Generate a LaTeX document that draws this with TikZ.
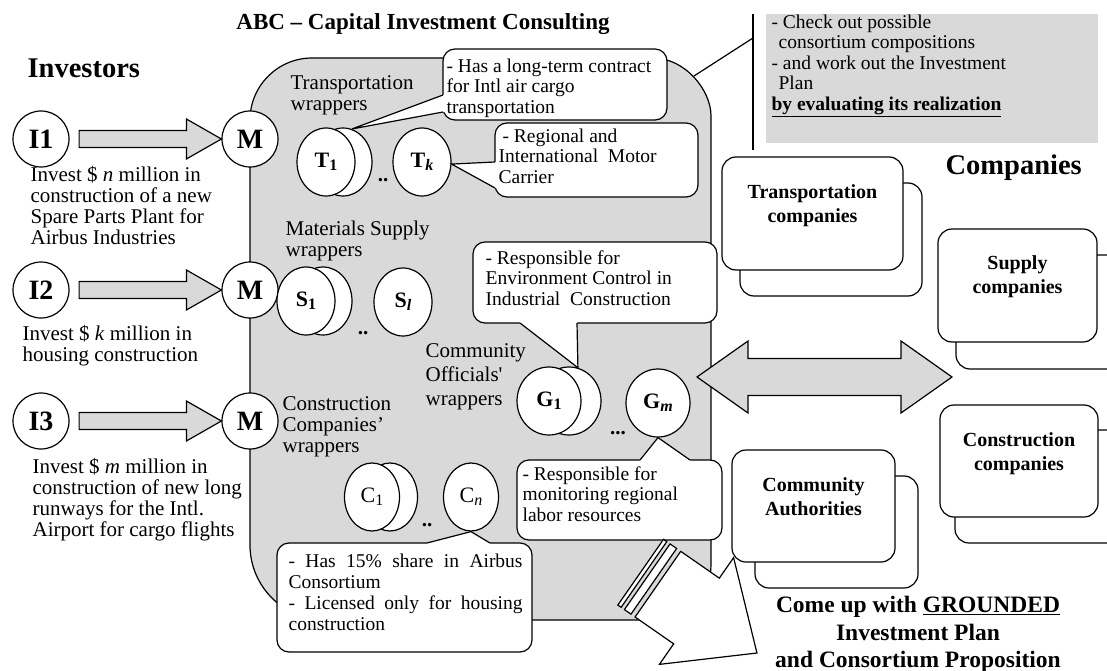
\documentclass[tikz,border=0pt]{standalone}
\usepackage{fontspec}
\setmainfont{Liberation Serif}
\usetikzlibrary{calc,shapes.geometric}
\definecolor{panel}{RGB}{217,217,217}
% wrapper labels: letter with a lowered index
\newcommand{\wlab}[2]{{\bfseries #1\raisebox{-3pt}{\fontsize{16}{16}\selectfont #2}}}
\newcommand{\wlabrm}[2]{#1\raisebox{-3pt}{\fontsize{16}{16}\selectfont #2}}
\begin{document}
\begin{tikzpicture}[x=1pt,y=-1pt,line width=1.2pt,
  every node/.style={inner sep=0pt},
  lbl/.style={anchor=north west,align=left,font=\fontsize{21}{21}\selectfont},
  note/.style={anchor=north west,align=left,font=\fontsize{19.5}{20.5}\selectfont},
  hub/.style={circle,draw,fill=white,minimum size=56pt,font=\fontsize{28}{28}\selectfont\bfseries},
  wrapper/.style={ellipse,draw,fill=white,minimum width=58pt,minimum height=68pt,font=\fontsize{22}{22}\selectfont},
  bubble/.style={draw,fill=white,rounded corners=12pt},
  firm/.style={draw,fill=white,rounded corners=14pt},
  firmname/.style={anchor=north,align=center,font=\fontsize{20}{24.5}\selectfont\bfseries},
  head/.style={font=\fontsize{28.5}{28.5}\selectfont\bfseries},
  fat/.style={draw,fill=panel,line join=miter},
  dots/.style={anchor=base,font=\fontsize{21}{21}\selectfont\bfseries},
]
\useasboundingbox (0,0) rectangle (1107,671);
\fill[white] (0,0) rectangle (1107,671);

% ---------- consulting area ----------
\filldraw[fill=panel] (250,120) .. controls (250,85.8) and (277.8,58) .. (312,58)
  -- (653,58) .. controls (685,58) and (711,90) .. (711,116)
  -- (711,565) .. controls (711,595.4) and (686.4,620) .. (656,620)
  -- (325,620) .. controls (283.6,620) and (250,586.4) .. (250,545) -- cycle;

\node[head,font=\fontsize{23}{23}\selectfont\bfseries,anchor=base] (title) at (423,30) {ABC -- Capital Investment Consulting};
\node[head,anchor=west] (investors) at (27,68) {Investors};
\node[head,anchor=west] (companies) at (945,168) {Companies};

% ---------- task panel ----------
\fill[panel] (766,14) rectangle (1098,143);
\node[note] (task) at (771,14) {- Check out possible\\\hspace*{7pt}consortium compositions\\- and work out the Investment\\\hspace*{7pt}Plan\\\underline{\textbf{by evaluating its realization}}};
\coordinate (vtop) at (753,14);
\coordinate (vbot) at (753,150);
\coordinate (dlink) at (753,38);
\coordinate (dfoot) at (694,76);
\draw (vtop) -- (vbot);
\draw (dfoot) -- (dlink);

% ---------- investors and their mandates ----------
\foreach \k/\yy in {1/139,2/290,3/421}{
  \node[hub] (I\k) at (41,\yy) {I\k};
  \node[hub] (M\k) at (250,\yy) {M};
  \draw[fat] ($(I\k.east)+(9.5,-8.5)$) -- ($(M\k.west)+(-35,-8.5)$) -- ($(M\k.west)+(-35,-20)$)
    -- (M\k.west) -- ($(M\k.west)+(-35,20)$) -- ($(M\k.west)+(-35,8.5)$) -- ($(I\k.east)+(9.5,8.5)$) -- cycle;
}
\node[lbl] (inv1) at (30,166) {Invest \$ \textit{n} million in\\construction of a new\\Spare Parts Plant for\\Airbus Industries};
\node[lbl] (inv2) at (22,325) {Invest \$ \textit{k} million in\\housing construction};
\node[lbl] (inv3) at (32,458) {Invest \$ \textit{m} million in\\construction of new long\\runways for the Intl.\\Airport for cargo flights};

% ---------- wrapper groups ----------
\node[lbl] (tgrp) at (290,75) {Transportation\\wrappers};
\node[lbl] (sgrp) at (285,220) {Materials Supply\\wrappers};
\node[lbl,font=\fontsize{21}{24}\selectfont] (ggrp) at (425,343) {Community\\Officials\textquotesingle\\wrappers};
\node[lbl] (cgrp) at (282,396) {Construction\\Companies’\\wrappers};

\node[wrapper] (T1b) at (343,162) {};
\node[wrapper] (T1) at (326,162) {\wlab{T}{1}};
\node[wrapper] (Tk) at (422,162) {\wlab{T}{\itshape k}};
\node[dots] (tdots) at (383,182) {..};

\node[wrapper] (S1b) at (323,301) {};
\node[wrapper] (S1) at (306,301) {\wlab{S}{1}};
\node[wrapper] (Sl) at (403,302) {\wlab{S}{\itshape l}};
\node[dots] (sdots) at (363,334) {..};

\node[wrapper,minimum width=64pt] (G1b) at (569,401) {};
\node[wrapper,minimum width=64pt] (G1) at (549,401) {\wlab{G}{1}};
\node[wrapper,minimum width=64pt] (Gm) at (658,403) {\wlab{G}{\itshape m}};
\node[dots] (gdots) at (618,434) {...};

\node[wrapper,minimum width=55pt] (C1b) at (390,497) {};
\node[wrapper,minimum width=55pt] (C1) at (372,497) {\wlabrm{C}{1}};
\node[wrapper,minimum width=55pt] (Cn) at (471,497) {\wlabrm{C}{\itshape n}};
\node[dots] (cdots) at (427,526) {..};

% ---------- callouts ----------
\draw[bubble] (443,49) rectangle (667,120);
\fill[white] (446,95) -- (443,95) -- (T1b.75) -- (443,112) -- (446,112) -- cycle;
\draw (443,95) -- (T1b.75) -- (443,112);
\node[note] (tnote) at (446,58) {- Has a long-term contract\\for Intl air cargo\\transportation};

\draw[bubble] (495,123) rectangle (698,197);
\fill[white] (498,162) -- (495,162) -- (Tk.-4) -- (495,188) -- (498,188) -- cycle;
\draw (495,162) -- (Tk.-4) -- (495,188);
\node[note] (knote) at (498,128) {\hspace*{4pt}- Regional and\\International~~Motor\\Carrier};

\draw[bubble] (473,242) rectangle (717,323);
\fill[white] (520,320) -- (520,323) -- (G1b.75) -- (577,323) -- (577,320) -- cycle;
\draw (520,323) -- (G1b.75) -- (577,323);
\node[note] (gnote) at (485,250) {- Responsible for\\Environment Control in\\Industrial~~Construction};

\draw[bubble] (517,460) rectangle (722,540);
\fill[white] (640,463) -- (640,460) -- (Gm.south) -- (690,460) -- (690,463) -- cycle;
\draw (640,460) -- (Gm.south) -- (690,460);
\node[note] (mnote) at (522,466) {- Responsible for\\monitoring regional\\labor resources};

\draw[bubble] (277,543) rectangle (532,652);
\fill[white] (427,546) -- (427,543) -- (Cn.south) -- (490,543) -- (490,546) -- cycle;
\draw (427,543) -- (Cn.south) -- (490,543);
\node[note,font=\fontsize{19.5}{21}\selectfont] (cnote) at (288,553) {\makebox[234pt][s]{- Has 15\% share in Airbus}\\Consortium\\\makebox[234pt][s]{- Licensed only for housing}\\construction};

% ---------- outcome arrow ----------
\begin{scope}[shift={(696.5,611)},rotate=-34.8]
  \draw[fill=white] (-68,-40) rectangle (-64,40);
  \draw[fill=white] (-60,-40) rectangle (-52,40);
  \draw[fill=white,line join=miter] (-47,-40) -- (0,-40) -- (0,-65) -- (73.6,0) -- (0,65) -- (0,40) -- (-47,40) -- cycle;
\end{scope}

% ---------- exchange arrow ----------
\draw[fat] (697,377) -- (748,341) -- (748,358.5) -- (901,358.5) -- (901,341) -- (952,377)
  -- (901,413) -- (901,395.5) -- (748,395.5) -- (748,413) -- cycle;

% ---------- company groups ----------
\draw[firm] (740,183) rectangle (922,296);
\draw[firm] (722,157) rectangle (903,270);
\node[firmname] (ftrans) at (812.5,184) {Transportation\\companies};

\draw[firm] (956,255) rectangle (1122,369);
\draw[firm] (938,229) rectangle (1097,342);
\node[firmname] (fsupp) at (1017.5,255) {Supply\\companies};

\draw[firm] (955,430) rectangle (1122,543);
\draw[firm] (940,405) rectangle (1098,517);
\node[firmname] (fcons) at (1019,432) {Construction\\companies};

\draw[firm] (755,476) rectangle (918,588);
\draw[firm] (732,450) rectangle (895,562);
\node[firmname] (fcomm) at (813.5,477) {Community\\Authorities};

\node[anchor=north,align=center,font=\fontsize{23.5}{27.5}\selectfont\bfseries] (goal) at (918,596) {Come up with \underline{GROUNDED}\\Investment Plan\\and Consortium Proposition};
\end{tikzpicture}
\end{document}
